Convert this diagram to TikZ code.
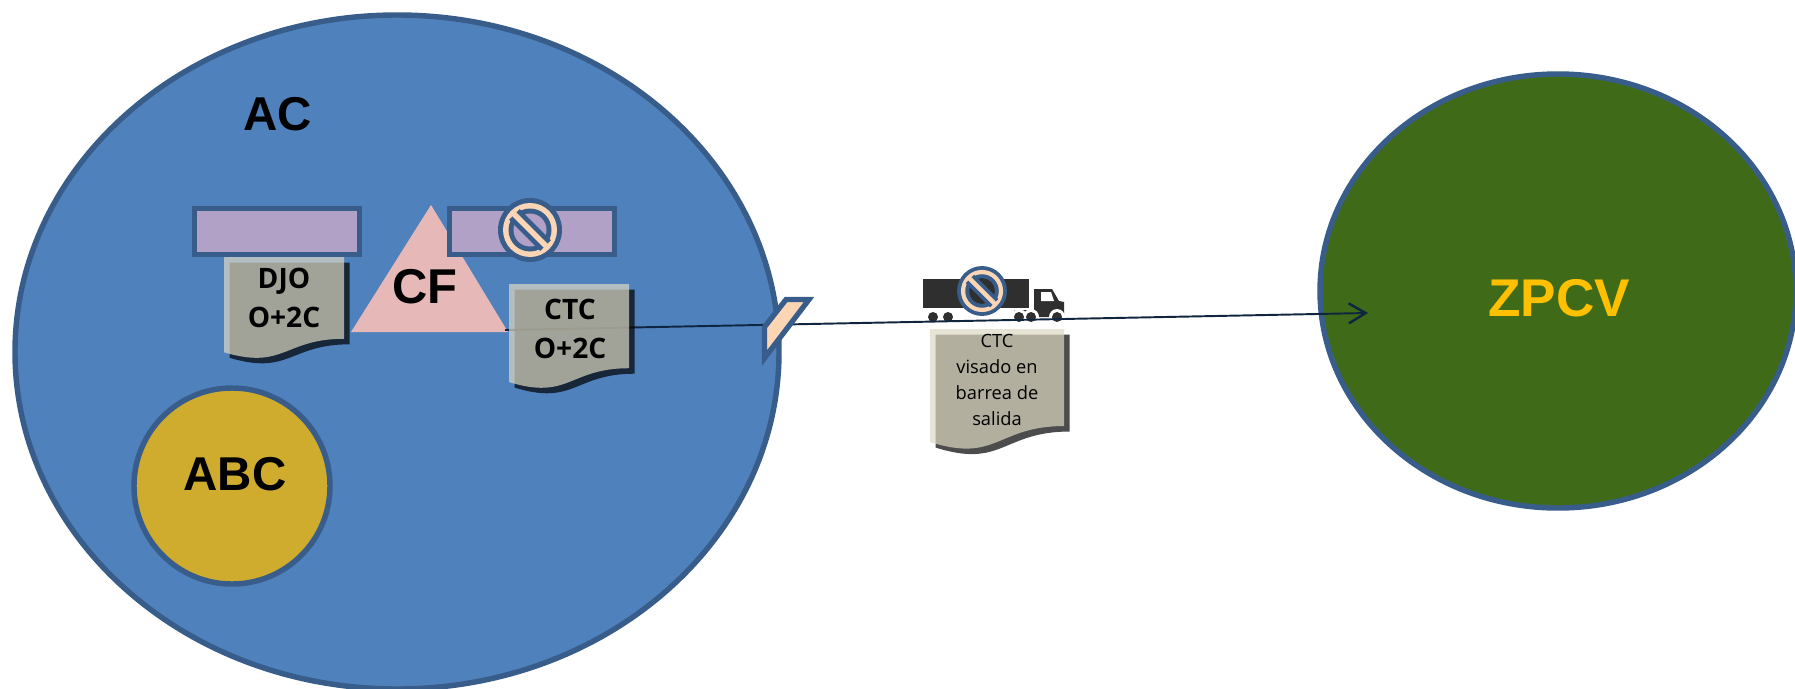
\documentclass[tikz,border=0pt]{standalone}
\usepackage{fontspec}
\setmainfont{Liberation Sans}
\newfontfamily\docfont{Open Sans}
\usetikzlibrary{arrows.meta}

\definecolor{zonefill}{HTML}{4F81BD}
\definecolor{zoneline}{HTML}{385D8A}
\definecolor{greenfill}{HTML}{3F6B19}
\definecolor{goldfill}{HTML}{CFAB2E}
\definecolor{barfill}{HTML}{B2A1C7}
\definecolor{pinkfill}{HTML}{E6B9B8}
\definecolor{peachfill}{HTML}{FCD5B5}
\definecolor{sheetfill}{HTML}{DDD9C3}
\definecolor{truckfill}{HTML}{2F2F2F}
\definecolor{arrowline}{HTML}{10253F}
\definecolor{zpcvtext}{HTML}{FFC000}

\tikzset{
  zone/.style={draw=zoneline,line width=1.55pt},
  bar/.style={draw=zoneline,line width=1.5pt,fill=barfill},
  biglabel/.style={font=\fontsize{#1}{#1}\selectfont\bfseries,inner sep=0pt},
  sheetshadow/.style={fill=black,fill opacity=.7},
  sheetbody/.style={fill=sheetfill,fill opacity=.7},
  sheetbold/.style={font=\docfont\bfseries\fontsize{8}{11}\selectfont,align=center,inner sep=0pt},
  sheetthin/.style={font=\docfont\fontsize{5.2}{7.4}\selectfont,align=center,inner sep=0pt},
}

% w, h of the sheet outline
\newcommand{\sheetpath}[2]{(0,0) -- (#1,0) -- (#1,.802*#2) .. controls (.5*#1,.802*#2) and (.5*#1,1.11*#2) .. (0,.934*#2) -- cycle}
% x, y, w, h
\newcommand{\sheet}[4]{
  \fill[sheetshadow,shift={(#1+5.5,#2+5.5)}] \sheetpath{#3}{#4};
  \fill[sheetbody,shift={(#1,#2)}] \sheetpath{#3}{#4};
}
% x, y, scale, inner colour
\newcommand{\forbid}[4]{
  \begin{scope}[shift={(#1,#2)},scale=#3]
    \fill[zoneline] (0,0) circle (32);
    \fill[peachfill] (0,0) circle (27);
    \fill[zoneline] (0,0) circle (21.5);
    \fill[#4] (0,0) circle (16.5);
    \fill[zoneline,rotate=-45] (-22,-7.5) rectangle (22,7.5);
    \fill[peachfill,rotate=-45] (-23,-2.8) rectangle (23,2.8);
  \end{scope}
}

\begin{document}
\begin{tikzpicture}[x=0.01cm,y=-0.01cm]
\useasboundingbox (0,0) rectangle (1795,688);
\clip (0,0) rectangle (1795,688);

% zones
\draw[zone,fill=zonefill] (397,352) ellipse (382 and 337);
\draw[zone,fill=greenfill] (1558,291) ellipse (238 and 217);
\draw[zone,fill=goldfill] (232,486) circle (98);

\node[biglabel=13.5] (ac) at (278,114) {AC};
\node[biglabel=13.5] (abc) at (235,474) {ABC};
\node[biglabel=15.1,text=zpcvtext] (zpcv) at (1559,298) {ZPCV};

% truck
\fill[truckfill] (923,279) rectangle (1029,308);
\fill[truckfill] (1034,289) -- (1052,289) -- (1059,301) -- (1064,302) -- (1064,317) -- (1014,317) -- (1014,310) -- (1034,310) -- cycle;
\fill[white] (1041,292) -- (1051,292) -- (1054,301) -- (1041,301) -- cycle;
\fill[white] (1019,317) circle (8);
\fill[white] (1031,317) circle (8);
\fill[white] (1057,317) circle (8);
\foreach \wx in {933,948,1019,1031,1057}
  \fill[truckfill] (\wx,317) circle (5);
\forbid{982}{291}{.78}{truckfill}

% triangle and bars
\fill[pinkfill] (431,205) -- (508,332) -- (351,332) -- cycle;
\node[biglabel=13.9] (cf) at (425,287) {CF};
\draw[bar] (194.5,208.5) rectangle (359.5,254.5);
\draw[bar] (449.5,208.5) rectangle (614.5,254.5);
\forbid{530}{230}{1}{barfill}

% arrow
\coordinate (start) at (505,330);
\coordinate (tip) at (1368,313);
\draw[arrowline,line width=.55pt,-{Straight Barb[length=4.8pt,width=5.7pt,line width=.7pt]}] (start) -- (tip);

% flag on the border
\draw[zoneline,line width=1.5pt,fill=peachfill,miter limit=10] (786,299.5) -- (809,299.5) -- (764.5,358) -- (764.5,327) -- cycle;

% sheets
\sheet{224}{257}{120}{102}
\node[sheetbold] (djo) at (284,298) {DJO\\O+2C};
\sheet{509}{284}{120}{105}
\node[sheetbold] (ctc) at (570,329) {CTC\\O+2C};
\sheet{930}{329}{134}{121}
\node[sheetthin] (visado) at (997,380) {CTC\\visado en\\barrea de\\salida};

\end{tikzpicture}
\end{document}
